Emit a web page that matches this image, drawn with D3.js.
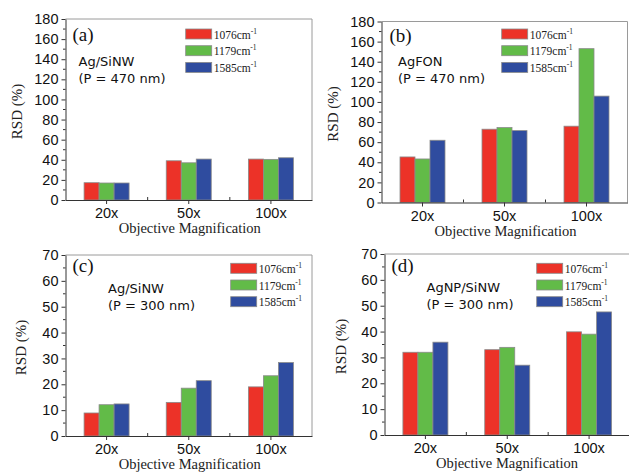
<!DOCTYPE html>
<html>
<head>
<meta charset="utf-8">
<script src="https://cdn.jsdelivr.net/npm/d3@7"></script>
<style>
  body { margin: 0; background: #fff; }
  svg { display: block; }
</style>
</head>
<body>
<script>
const categories = ['20x', '50x', '100x'];
const series = ['1076', '1179', '1585'];
const colors = ['#ec3228', '#62bb48', '#2f4c9f'];

// RSD (%) per panel, one array per Raman band
const a1076 = [17.2, 39.0, 40.7];
const a1179 = [16.9, 37.0, 40.4];
const a1585 = [16.9, 40.7, 42.0];

const b1076 = [45.3, 72.9, 75.9];
const b1179 = [43.3, 74.5, 153.0];
const b1585 = [61.9, 71.5, 105.8];

const c1076 = [8.9, 13.0, 19.0];
const c1179 = [12.1, 18.5, 23.3];
const c1585 = [12.4, 21.4, 28.4];

const d1076 = [32.0, 33.0, 39.9];
const d1179 = [32.0, 33.9, 39.0];
const d1585 = [35.9, 27.0, 47.6];

const panels = [
  {tag: '(a)', name: 'Ag/SiNW', pitch: '(P = 470 nm)', vals: [a1076, a1179, a1585], ymax: 180, step: 20,
   box: {l: 65.5, r: 312, t: 19, b: 200}, tagPos: [72.5, 40.5], namePos: [78.5, 66], legPos: [185.7, 29], ylabX: 17},
  {tag: '(b)', name: 'AgFON', pitch: '(P = 470 nm)', vals: [b1076, b1179, b1585], ymax: 180, step: 20,
   box: {l: 381.5, r: 627.5, t: 21.5, b: 202.5}, tagPos: [389.5, 42], namePos: [398, 66], legPos: [501.7, 29], ylabX: 333},
  {tag: '(c)', name: 'Ag/SiNW', pitch: '(P = 300 nm)', vals: [c1076, c1179, c1585], ymax: 70, step: 10,
   box: {l: 65.5, r: 312, t: 255, b: 436}, tagPos: [72.5, 272], namePos: [108, 293.3], legPos: [230.7, 263.3], ylabX: 21},
  {tag: '(d)', name: 'AgNP/SiNW', pitch: '(P = 300 nm)', vals: [d1076, d1179, d1585], ymax: 70, step: 10,
   box: {l: 384.5, r: 630, t: 254, b: 435}, tagPos: [391.5, 272], namePos: [426.5, 291.7], legPos: [536.7, 263.3], ylabX: 341}
];

const svg = d3.select('body').append('svg')
  .attr('width', 629)
  .attr('height', 474);

const sans = 'Liberation Sans, Arial, sans-serif';
const wide = 'DejaVu Sans, Verdana, sans-serif';
const serif = 'Liberation Serif, Times New Roman, serif';

panels.forEach(p => {
  const g = svg.append('g');
  const bx = p.box;

  const x = d3.scaleBand().domain(categories).range([bx.l, bx.r]);
  const y = d3.scaleLinear().domain([0, p.ymax]).range([bx.b, bx.t]);
  const barW = 15;
  const x1 = d3.scaleBand().domain(series).range([-1.5 * barW, 1.5 * barW]);

  // frame (top/right)
  g.append('path')
    .attr('d', `M${bx.l},${bx.t}H${bx.r}V${bx.b}`)
    .attr('fill', 'none').attr('stroke', '#9a9a9a').attr('stroke-width', 1);

  // bars
  series.forEach((s, si) => {
    g.selectAll('.bar' + si)
      .data(p.vals[si])
      .join('rect')
      .attr('x', (d, i) => x(categories[i]) + x.bandwidth() / 2 + x1(s))
      .attr('y', d => y(d))
      .attr('width', x1.bandwidth())
      .attr('height', d => y(0) - y(d))
      .attr('fill', colors[si])
      .attr('stroke', '#8a8a8a')
      .attr('stroke-width', 0.8);
  });

  // y axis
  const yAxis = d3.axisLeft(y)
    .tickValues(d3.range(0, p.ymax + 0.01, p.step))
    .tickSize(4).tickPadding(3).tickSizeOuter(0);
  const ya = g.append('g').attr('transform', `translate(${bx.l},0)`).call(yAxis);
  ya.selectAll('text').attr('font-family', sans).attr('font-size', 14.5).attr('fill', '#111');
  ya.selectAll('line, path').attr('stroke', '#333');
  // minor ticks
  g.append('g').selectAll('line')
    .data(d3.range(p.step / 2, p.ymax, p.step))
    .join('line')
    .attr('x1', bx.l - 2.5).attr('x2', bx.l)
    .attr('y1', d => y(d)).attr('y2', d => y(d))
    .attr('stroke', '#333');

  // x axis
  const xAxis = d3.axisBottom(x).tickSize(4).tickPadding(4).tickSizeOuter(0);
  const xa = g.append('g').attr('transform', `translate(0,${bx.b})`).call(xAxis);
  xa.selectAll('text').attr('font-family', sans).attr('font-size', 14.5).attr('fill', '#111');
  xa.selectAll('line, path').attr('stroke', '#333');
  g.append('g').selectAll('line')
    .data(categories.slice(1))
    .join('line')
    .attr('x1', d => x(d)).attr('x2', d => x(d))
    .attr('y1', bx.b - 3).attr('y2', bx.b)
    .attr('stroke', '#333');

  // axis titles
  g.append('text')
    .attr('x', (bx.l + Math.min(bx.r, 627.5)) / 2 + 1)
    .attr('y', bx.b + 33)
    .attr('text-anchor', 'middle')
    .attr('font-family', serif).attr('font-size', 14.5).attr('fill', '#222')
    .text('Objective Magnification');

  g.append('text')
    .attr('transform', `translate(${p.ylabX + 5},${(bx.t + bx.b) / 2 + 2}) rotate(-90)`)
    .attr('text-anchor', 'middle')
    .attr('font-family', serif).attr('font-size', 15).attr('fill', '#222')
    .text('RSD (%)');

  // panel tag and sample name
  g.append('text')
    .attr('x', p.tagPos[0]).attr('y', p.tagPos[1])
    .attr('font-family', serif).attr('font-size', 19).attr('fill', '#111')
    .text(p.tag);
  g.append('text')
    .attr('x', p.namePos[0]).attr('y', p.namePos[1])
    .attr('font-family', wide).attr('font-size', 13).attr('fill', '#111')
    .text(p.name);
  g.append('text')
    .attr('x', p.namePos[0]).attr('y', p.namePos[1] + 17)
    .attr('font-family', wide).attr('font-size', 13).attr('fill', '#111')
    .text(p.pitch);

  // legend
  const leg = g.append('g').attr('transform', `translate(${p.legPos[0]},${p.legPos[1]})`);
  series.forEach((s, si) => {
    const row = leg.append('g').attr('transform', `translate(0,${si * 16.7})`);
    row.append('rect')
      .attr('width', 26).attr('height', 10)
      .attr('fill', colors[si]).attr('stroke', '#8a8a8a').attr('stroke-width', 0.8);
    const t = row.append('text')
      .attr('x', 28).attr('y', 9.5)
      .attr('font-family', serif).attr('font-size', 11.5).attr('fill', '#222');
    t.append('tspan').text(s + 'cm');
    t.append('tspan').attr('dy', -5).attr('font-size', 7.5).text('-1');
  });
});
</script>
</body>
</html>
